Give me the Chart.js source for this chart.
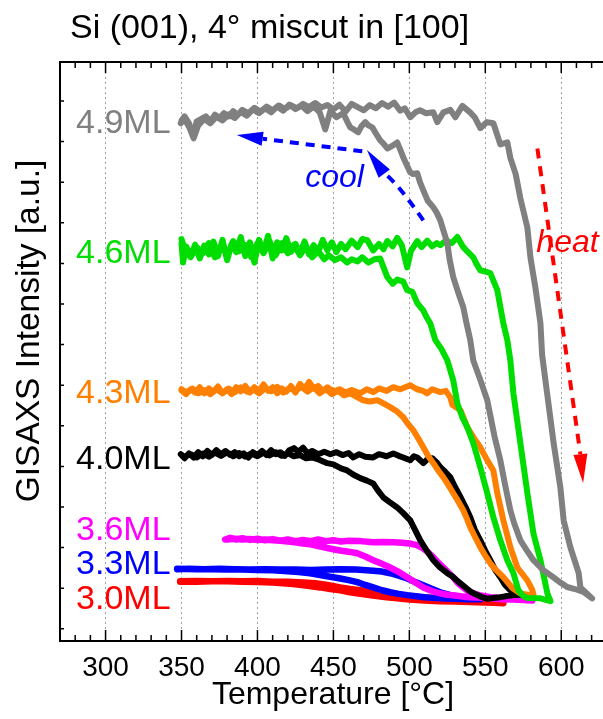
<!DOCTYPE html>
<html>
<head>
<meta charset="utf-8">
<script src="https://cdn.jsdelivr.net/npm/chart.js@4.4.1/dist/chart.umd.min.js"></script>
<style>
  html, body { margin: 0; padding: 0; overflow: hidden; background: #fff; }
  #grafico { display: block; }
</style>
</head>
<body>
<canvas id="grafico" width="640" height="719"></canvas>
<script>
// [temperature °C, intensity a.u.] - heating branch first, then cooling back
const gray49 = [[350,12.52],[352,12.62],[355,12.45],[357.5,12.12],[360,12.5],[363,12.56],[366,12.62],[369,12.5],[372,12.66],[375,12.58],[378,12.7],[381,12.62],[384,12.75],[387,12.66],[390,12.78],[394,12.7],[398,12.83],[402,12.74],[406,12.86],[410,12.77],[414,12.89],[418,12.8],[422,12.9],[426,12.82],[430,12.93],[434,12.85],[438,12.95],[442,12.84],[446,12.9],[450,12.79],[454,12.91],[458,12.74],[462,12.93],[466,12.85],[470,12.77],[474,12.9],[478,12.82],[482,12.95],[486,12.86],[490,12.96],[494,12.76],[497,12.82],[500.6,12.6],[504,12.72],[507,12.77],[511,12.7],[515.8,12.72],[518.4,12.48],[522.4,12.72],[527,12.78],[530.3,12.6],[534.9,12.88],[540,12.72],[543,12.6],[546.7,12.33],[551,12.48],[555.3,12.45],[559.9,11.93],[564.5,11.98],[566.5,11.6],[570,11.2],[573.1,10.6],[577.7,9.88],[579.7,9.15],[583,8.4],[586.3,7.53],[587.4,6.75],[590.7,5.8],[595,4.57],[599.4,3.49],[601.6,2.67],[606,2.01],[611.5,1.37],[612.6,1.02],[620.3,0.75],
  [614.6,0.91],[609,0.98],[603.9,1.03],[599,1.15],[594.8,1.27],[588,1.45],[581.7,1.69],[577,1.95],[573.1,2.18],[569,2.6],[566.5,2.92],[563,3.55],[559.9,4.15],[556,4.75],[551.3,5.63],[547,6.1],[542.1,6.61],[540.1,7.11],[537.5,7.55],[535.5,7.92],[532,8.3],[528.9,8.66],[526.5,9.1],[525,9.5],[522.5,9.8],[520.4,10.06],[518,10.25],[515.8,10.38],[512,10.55],[509.2,10.8],[507,11.0],[505.2,11.22],[502.5,11.2],[500.6,11.24],[498,11.45],[496,11.61],[494,11.8],[492,11.98],[489,11.9],[485.5,11.83],[483,11.95],[480.8,12.03],[478,12.2],[475.6,12.35],[473,12.4],[471,12.48],[468.5,12.38],[466.3,12.23],[463.5,12.3],[461.1,12.35],[459,12.5],[456.5,12.7],[452,12.6],[448,12.75],[444.6,12.3],[441,12.72],[437,12.86],[433,12.75],[429,12.88],[425,12.8],[421,12.91],[417,12.76],[413,12.86],[409,12.72],[405,12.82],[401,12.7],[397,12.79],[393,12.64],[389,12.73],[385,12.58],[381,12.67],[377,12.52],[373,12.61],[369,12.45],[365,12.56],[361,12.4],[358,12.08],[355,12.36],[352,12.56],[349.5,12.45]];

const green46 = [[350,9.5],[351,9.02],[353,9.42],[356,9.18],[359,9.46],[362,9.12],[365,9.44],[368,9.22],[371,9.54],[374,9.18],[377,9.58],[380,9.08],[383,9.48],[386,9.28],[389,9.65],[392,9.18],[395,9.52],[398,9.02],[401,9.58],[404,9.28],[407,9.68],[410,9.12],[413,9.52],[416,9.32],[419,9.62],[422,9.28],[425,9.48],[428,9.25],[431,9.54],[434,9.22],[437,9.45],[440,9.28],[443,9.58],[446,9.32],[449,9.52],[452,9.28],[455,9.48],[458,9.35],[462,9.56],[466,9.4],[469,9.6],[472.3,9.57],[476.2,9.32],[480,9.48],[483,9.35],[485.5,9.55],[489,9.42],[492,9.63],[495,9.45],[498.6,8.9],[501,9.3],[505.2,9.55],[508,9.4],[511.8,9.56],[515,9.42],[518,9.5],[520.4,9.45],[524,9.56],[528,9.5],[531.6,9.65],[535.5,9.4],[538,9.3],[542.1,9.15],[544,9.0],[546.7,8.83],[550,8.8],[553.3,8.76],[557.9,8.34],[561.9,7.52],[564.5,7.11],[566.5,6.61],[568.5,5.8],[573.1,4.57],[577.7,3.34],[581.7,2.35],[586.3,1.69],[590.9,0.87],[592.9,0.68],
  [586.3,0.75],[578,0.76],[575.1,0.8],[571.8,0.95],[568.5,1.37],[564.5,1.69],[559.9,2.18],[555.3,2.75],[551.3,3.34],[546.7,3.98],[542.1,4.57],[538.2,4.96],[535,5.2],[531.6,5.55],[528.9,6.12],[525,6.61],[521,6.9],[517.1,7.11],[513.8,7.52],[511,7.7],[509.2,7.84],[505.2,8.02],[502,8.3],[498.6,8.34],[496,8.55],[492,8.6],[489,8.5],[485.5,8.66],[482.5,8.95],[480.8,9.12],[477,9.1],[473,9.02],[469,9.15],[466,9.05],[462,9.1],[459,9.02],[455,9.15],[451,9.08],[447,9.2],[444,9.1],[440,9.3],[436,9.15],[432,9.42],[428,9.2],[424,9.46],[420,9.25],[416,9.5],[412,9.2],[408,9.55],[404,9.25],[400,9.5],[396,9.15],[392,9.45],[388,9.3],[384,9.55],[380,9.2],[376,9.45],[372,9.15],[368,9.5],[364,9.25],[360,9.4],[356,9.15],[352,9.35],[350,9.6]];

const orange43 = [[350,5.87],[353,5.78],[356,5.9],[359,5.82],[362,5.95],[365,5.8],[368,5.92],[371,5.84],[374,5.97],[377,5.8],[380,5.9],[383,5.78],[386,5.95],[389,5.85],[392,5.98],[395,5.82],[398,5.95],[401,5.86],[404,6.02],[407,5.86],[410,5.95],[413,5.8],[416,5.92],[419,5.84],[422,5.98],[425,5.82],[428,6.03],[431,5.9],[434,6.08],[437,5.92],[440,5.98],[443,5.85],[446,5.95],[450,5.85],[454,5.9],[458,5.82],[462,5.88],[467.7,5.8],[472,5.9],[476.2,5.83],[480,5.92],[485,5.86],[489.4,5.95],[494,5.9],[500.6,6.0],[505,5.9],[509,5.86],[511.8,5.8],[515,5.9],[520.4,5.83],[524,5.86],[527,5.7],[528.3,5.52],[531,5.45],[533.7,5.38],[538.2,4.96],[542.1,4.72],[546.7,4.47],[551.3,4.15],[555.3,3.9],[557.9,3.34],[561.9,2.67],[566.5,2.01],[571.1,1.51],[577.7,1.19],[581,0.95],[581.7,0.85],
  [578,0.84],[573.1,0.87],[568,1.0],[561.9,1.27],[557,1.45],[553.3,1.61],[550,1.8],[546.7,2.01],[543,2.28],[540.1,2.5],[538,2.7],[535.5,2.92],[532,3.15],[528.9,3.34],[525.5,3.55],[522.4,3.73],[519,3.9],[515.8,4.08],[512.5,4.25],[509.2,4.47],[506,4.68],[502.6,4.89],[499,5.05],[496,5.21],[492,5.35],[487.4,5.46],[483,5.55],[478.9,5.63],[474,5.6],[469.6,5.63],[465,5.72],[461.1,5.8],[457,5.75],[453,5.86],[449,5.78],[445,5.9],[441,5.8],[437,5.95],[433,5.84],[429,5.96],[425,5.86],[421,5.93],[417,5.82],[413,5.96],[409,5.85],[405,5.92],[401,5.8],[397,5.9],[393,5.84],[389,5.95],[385,5.82],[381,5.92],[377,5.8],[373,5.9],[369,5.78],[365,5.88],[361,5.8],[357,5.92],[353,5.82],[350,5.9]];

const black40 = [[349.5,4.3],[352,4.2],[355,4.32],[358,4.22],[361,4.35],[364,4.25],[367,4.38],[370,4.28],[373,4.4],[376,4.3],[379,4.38],[382,4.28],[385,4.35],[388,4.25],[391,4.32],[394,4.22],[397,4.35],[400,4.28],[403,4.38],[406,4.28],[409,4.4],[412,4.3],[415,4.35],[418,4.26],[421,4.4],[424,4.45],[427,4.36],[430,4.46],[433,4.32],[436,4.38],[440,4.3],[444,4.36],[448,4.3],[452,4.35],[456,4.28],[460,4.33],[463.1,4.22],[467,4.3],[471,4.24],[476.2,4.22],[480,4.3],[485,4.25],[489.4,4.32],[493,4.26],[496,4.22],[500.6,4.15],[503,4.25],[505.2,4.22],[509.2,4.08],[512,4.18],[515.1,4.2],[518,4.1],[520.4,3.98],[524,3.85],[527,3.73],[530,3.5],[533.7,3.24],[537,3.0],[540.1,2.75],[543,2.45],[546.7,2.18],[550,1.92],[553.3,1.69],[556.5,1.45],[559.9,1.27],[563,1.08],[566.5,0.95],[570,0.88],[574.4,0.83],
  [568.5,0.83],[563,0.8],[559.9,0.78],[555,0.76],[551.3,0.74],[548,0.78],[544.8,0.83],[541,0.9],[538.2,0.98],[535,1.08],[531,1.2],[528,1.3],[525,1.37],[520,1.52],[515.8,1.69],[511,1.95],[507.2,2.18],[504,2.42],[500.6,2.67],[496,2.85],[492,2.99],[487,3.12],[482.8,3.24],[479,3.42],[476.2,3.58],[472,3.65],[467.7,3.71],[463,3.8],[459,3.9],[455,3.95],[450,4.05],[445.9,4.08],[441,4.16],[436,4.22],[432,4.2],[428,4.28],[424,4.25],[420,4.33],[416,4.26],[412,4.35],[408,4.27],[404,4.34],[400,4.25],[396,4.32],[392,4.24],[388,4.33],[384,4.25],[380,4.35],[376,4.26],[372,4.34],[368,4.24],[364,4.32],[360,4.22],[356,4.3],[352,4.24],[349.5,4.3]];

const magenta36 = [[378.7,2.2],[382,2.24],[386,2.2],[390,2.23],[395,2.19],[400,2.22],[405,2.18],[410,2.21],[415,2.17],[420,2.2],[425,2.16],[430,2.19],[435,2.16],[440,2.2],[445,2.16],[450,2.18],[455,2.15],[460,2.17],[467.7,2.16],[476.2,2.13],[482,2.14],[489.4,2.13],[495,2.12],[500.6,2.1],[505,2.06],[509.2,1.98],[512.5,1.88],[515.8,1.76],[519,1.63],[522.4,1.51],[525.5,1.39],[528.9,1.27],[532,1.13],[535.5,1.02],[538.5,0.93],[542.1,0.87],[547,0.82],[553.3,0.78],[561,0.76],[568.5,0.74],[575,0.72],[581,0.7],
  [575,0.71],[568,0.72],[560,0.73],[553.3,0.75],[545,0.77],[538.2,0.78],[530,0.82],[525,0.84],[520.4,0.87],[515,0.93],[509.2,1.02],[504,1.14],[498.6,1.27],[493,1.4],[487.4,1.51],[482,1.6],[476.2,1.69],[471,1.78],[465.7,1.86],[460,1.9],[454.5,1.93],[450,1.96],[445.9,1.99],[440,2.04],[435,2.08],[430,2.1],[425,2.13],[420,2.15],[415,2.17],[410,2.18],[405,2.2],[400,2.19],[395,2.21],[390,2.2],[385,2.22],[380,2.2]];

const blue33 = [[347.1,1.47],[355,1.48],[365,1.47],[375,1.48],[385,1.47],[395,1.46],[405,1.47],[415,1.46],[425,1.46],[435,1.45],[445,1.46],[454.5,1.47],[465,1.46],[476.2,1.43],[482,1.41],[487.4,1.37],[493,1.31],[498.6,1.24],[504,1.15],[509.2,1.07],[515,0.98],[520.4,0.9],[527,0.83],[533.7,0.78],[540,0.75],[546.7,0.73],
  [540,0.73],[530,0.74],[520.4,0.75],[510,0.78],[498.6,0.83],[493,0.86],[487.4,0.9],[482,0.95],[476.2,1.02],[471,1.08],[465.7,1.15],[460,1.2],[454.5,1.24],[445,1.3],[434.7,1.37],[427,1.4],[420,1.42],[410,1.44],[400,1.45],[390,1.46],[380,1.46],[370,1.47],[360,1.47],[347.1,1.48]];

const red30 = [[349.1,1.17],[360,1.18],[370,1.17],[380,1.18],[390,1.17],[400,1.18],[410,1.16],[420,1.16],[430,1.14],[438,1.12],[446,1.08],[454.5,1.02],[461,0.98],[467.7,0.95],[475,0.92],[482,0.88],[490,0.84],[500,0.8],[510,0.77],[520,0.74],[530,0.72],[540,0.7],[550,0.67],[556,0.65],[561.9,0.63],
  [556,0.64],[550,0.65],[540,0.66],[530,0.67],[520,0.68],[510,0.7],[500,0.72],[492,0.75],[485,0.78],[476,0.82],[467.7,0.86],[461,0.9],[454.5,0.95],[448,0.98],[441.3,1.02],[433,1.06],[425,1.1],[417,1.12],[410,1.14],[400,1.15],[390,1.16],[380,1.17],[370,1.17],[360,1.16],[349.1,1.16]];

const coverages = ['4.9ML', '4.6ML', '4.3ML', '4.0ML', '3.6ML', '3.3ML', '3.0ML'];
const xTickValues = [300, 350, 400, 450, 500, 550, 600];

// drawing order: first dataset ends up on top
const curves = [gray49, green46, orange43, black40, magenta36, blue33, red30];
const colors = ['#808080', '#00dd00', '#ff8000', '#000000', '#ff00ff', '#0000ff', '#ff0000'];
// label baseline (intensity units) at the left of each curve
const labelLevels = [12.2, 9.0, 5.55, 3.93, 2.18, 1.34, 0.5];

const FONT = '"Liberation Sans", Arial, Helvetica, sans-serif';

const frame = {
    id: 'frame',
    afterDraw(chart) {
        const { ctx, chartArea: a, scales: { x, y } } = chart;
        ctx.save();
        ctx.strokeStyle = '#000';
        ctx.lineWidth = 1.5;
        ctx.beginPath();
        // ticks pointing inwards, minor every 10 °C
        for (let t = 270; t <= 640; t += 10) {
            const px = x.getPixelForValue(t);
            const len = t % 50 === 0 ? 11 : 6;
            ctx.moveTo(px, a.bottom); ctx.lineTo(px, a.bottom - len);
            ctx.moveTo(px, a.top); ctx.lineTo(px, a.top + len);
        }
        for (let k = 0; k <= 13; k++) {
            const py = y.getPixelForValue(k);
            ctx.moveTo(a.left, py); ctx.lineTo(a.left + 4, py);
        }
        ctx.stroke();
        ctx.lineWidth = 2;
        ctx.strokeRect(a.left, a.top, a.right - a.left, a.bottom - a.top);
        ctx.restore();
    }
};

const arrowHead = (ctx, bx, by, tx, ty, half) => {
    const dx = tx - bx, dy = ty - by;
    const d = Math.hypot(dx, dy);
    const nx = -dy / d * half, ny = dx / d * half;
    ctx.beginPath();
    ctx.moveTo(tx, ty);
    ctx.lineTo(bx + nx, by + ny);
    ctx.lineTo(bx - nx, by - ny);
    ctx.closePath();
    ctx.fill();
};

const texts = {
    id: 'texts',
    afterDraw(chart) {
        const { ctx, scales: { x, y } } = chart;
        const P = (t, v) => [x.getPixelForValue(t), y.getPixelForValue(v)];
        ctx.save();
        ctx.textBaseline = 'alphabetic';

        // title
        ctx.fillStyle = '#000';
        ctx.textAlign = 'left';
        ctx.font = `34px ${FONT}`;
        ctx.fillText('Si (001), 4° miscut in [100]', 70, 38);

        // axis titles
        ctx.textAlign = 'center';
        ctx.font = `32px ${FONT}`;
        ctx.fillText('Temperature [°C]', 333, 704);
        ctx.save();
        ctx.translate(39, 331);
        ctx.rotate(-Math.PI / 2);
        ctx.font = `33.5px ${FONT}`;
        ctx.fillText('GISAXS Intensity [a.u.]', 0, 0);
        ctx.restore();

        // coverage labels
        ctx.textAlign = 'right';
        ctx.font = `34px ${FONT}`;
        coverages.forEach((lab, i) => {
            const [px, py] = P(342.8, labelLevels[i]);
            ctx.fillStyle = colors[i];
            ctx.fillText(lab, px, py);
        });

        // cool arrow (blue)
        ctx.strokeStyle = '#0000ff';
        ctx.fillStyle = '#0000ff';
        ctx.lineWidth = 4;
        ctx.setLineDash([9, 7]);
        let [sx, sy] = P(509.2, 10.06);
        let [cx, cy] = P(490.7, 11.05);
        let [bx, by] = P(483.5, 11.21);
        ctx.beginPath();
        ctx.moveTo(sx, sy);
        ctx.quadraticCurveTo(cx, cy, bx, by);
        ctx.stroke();
        ctx.setLineDash([]);
        let [tx, ty] = P(472.1, 11.79);
        arrowHead(ctx, bx, by, tx, ty, 7);

        ctx.setLineDash([9, 7]);
        [sx, sy] = P(469, 11.76);
        [bx, by] = P(403.4, 12.07);
        ctx.beginPath();
        ctx.moveTo(sx, sy);
        ctx.lineTo(bx, by);
        ctx.stroke();
        ctx.setLineDash([]);
        [tx, ty] = P(386.4, 12.16);
        arrowHead(ctx, bx, by, tx, ty, 7);

        // heat arrow (red)
        ctx.strokeStyle = '#ff0000';
        ctx.fillStyle = '#ff0000';
        ctx.setLineDash([10, 8]);
        [sx, sy] = P(584.3, 11.83);
        [bx, by] = P(612.6, 4.3);
        ctx.beginPath();
        ctx.moveTo(sx, sy);
        ctx.lineTo(bx, by);
        ctx.stroke();
        ctx.setLineDash([]);
        [tx, ty] = P(614.4, 3.59);
        arrowHead(ctx, bx, by, tx, ty, 7);

        ctx.textAlign = 'left';
        ctx.font = `italic 32px ${FONT}`;
        ctx.fillStyle = '#0000ff';
        ctx.fillText('cool', ...P(431.4, 10.87));
        ctx.fillStyle = '#ff0000';
        ctx.fillText('heat', ...P(583.6, 9.27));
        ctx.restore();
    }
};

const ctx = document.getElementById('grafico').getContext('2d');
new Chart(ctx, {
    type: 'line',
    data: {
        datasets: curves.map((c, i) => ({
            data: c.map(([t, v]) => ({ x: t, y: v })),
            borderColor: colors[i],
            borderWidth: i >= 4 ? 6.5 : 6,
            pointRadius: 0,
            tension: 0,
            fill: false,
            borderJoinStyle: 'round',
            borderCapStyle: 'round'
        }))
    },
    options: {
        responsive: false,
        animation: false,
        layout: { padding: { top: 62, right: 18, left: 0, bottom: 0 } },
        plugins: {
            legend: { display: false },
            title: { display: false },
            tooltip: { enabled: false }
        },
        scales: {
            x: {
                type: 'linear',
                min: 270,
                max: 640,
                afterBuildTicks: s => { s.ticks = xTickValues.map(v => ({ value: v })); },
                afterFit: s => { s.height = 78; },
                grid: { color: '#a0a0a0', lineWidth: 1, drawTicks: false },
                border: { display: false, dash: [2, 3] },
                ticks: {
                    color: '#000',
                    padding: 10,
                    maxRotation: 0,
                    autoSkip: false,
                    font: { family: FONT, size: 28 }
                }
            },
            y: {
                min: -0.3,
                max: 13.96,
                afterFit: s => { s.width = 60; },
                grid: { display: false },
                border: { display: false },
                ticks: { display: false }
            }
        }
    },
    plugins: [frame, texts]
});
</script>
</body>
</html>
